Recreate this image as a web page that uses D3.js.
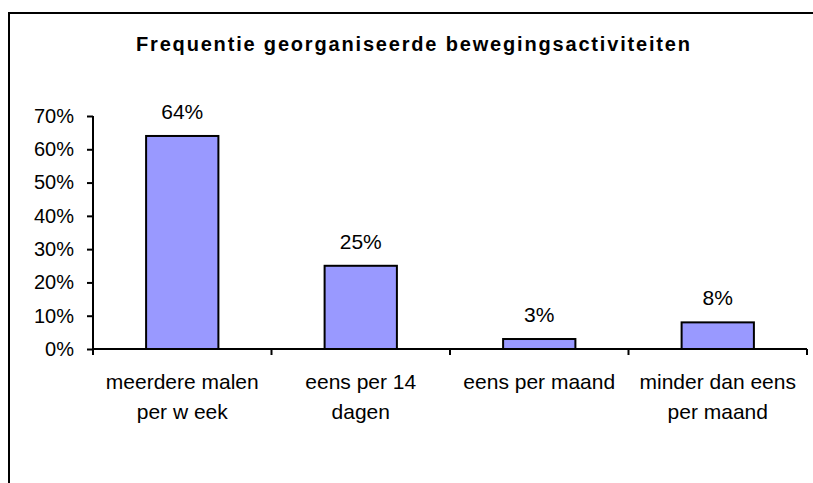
<!DOCTYPE html>
<html>
<head>
<meta charset="utf-8">
<script src="https://cdn.jsdelivr.net/npm/d3@7"></script>
<style>
  body { margin: 0; background: #fff; }
  text { font-family: "Liberation Sans", Arial, sans-serif; fill: #000; }
</style>
</head>
<body>
<div id="chart"></div>
<script>
// data
const categories = ["meerdere malen per week", "eens per 14 dagen", "eens per maand", "minder dan eens per maand"];
const labelLines = [["meerdere malen", "per w eek"], ["eens per 14", "dagen"], ["eens per maand"], ["minder dan eens", "per maand"]];
const values = [0.64, 0.25, 0.03, 0.08];
const yTicks = [0, 0.1, 0.2, 0.3, 0.4, 0.5, 0.6, 0.7];
const title = "Frequentie georganiseerde bewegingsactiviteiten";

const W = 813, H = 483;
const margin = { top: 116, bottom: 134, left: 93, right: 6 };

const svg = d3.select("#chart").append("svg")
    .attr("width", W)
    .attr("height", H);

// outer frame (right and bottom edges run off the picture)
svg.append("rect")
    .attr("x", 9).attr("y", 13)
    .attr("width", W + 20).attr("height", H + 20)
    .attr("fill", "none").attr("stroke", "#000").attr("stroke-width", 2);

svg.append("text")
    .attr("x", 413).attr("y", 51)
    .attr("text-anchor", "middle")
    .style("font-size", "20px").style("font-weight", "bold")
    .attr("textLength", 554).attr("lengthAdjust", "spacing")
    .text(title);

const xscale = d3.scaleBand().domain(categories).range([margin.left, W - margin.right]).padding(0);
const yscale = d3.scaleLinear().domain([0, 0.7]).range([H - margin.bottom, margin.top]);
const y0 = yscale(0);
const barW = xscale.bandwidth() * 0.405;

// y axis
const yaxis = d3.axisLeft(yscale).tickValues(yTicks).tickFormat(d3.format(".0%")).tickSize(6).tickPadding(13);
const g_yaxis = svg.append("g").attr("transform", `translate(${margin.left},0)`).call(yaxis);
g_yaxis.select(".domain").remove();
g_yaxis.append("line").attr("x1", 0).attr("x2", 0).attr("y1", yscale(0.7)).attr("y2", y0)
    .attr("stroke", "#000").attr("stroke-width", 2);
g_yaxis.selectAll(".tick line").attr("stroke", "#000").attr("stroke-width", 2);
g_yaxis.selectAll(".tick text")
    .style("font-size", "20px")
    .attr("font-family", null).attr("fill", "#000");

// bars
svg.selectAll("rect.bar")
    .data(values)
    .join("rect")
    .attr("class", "bar")
    .attr("x", (d, i) => xscale(categories[i]) + (xscale.bandwidth() - barW) / 2)
    .attr("y", (d) => yscale(d))
    .attr("width", barW)
    .attr("height", (d) => y0 - yscale(d))
    .attr("fill", "#9999ff")
    .attr("stroke", "#000")
    .attr("stroke-width", 2);

// value labels
svg.selectAll("text.val")
    .data(values)
    .join("text")
    .attr("class", "val")
    .attr("x", (d, i) => xscale(categories[i]) + xscale.bandwidth() / 2)
    .attr("y", (d) => yscale(d) - 17)
    .attr("text-anchor", "middle")
    .style("font-size", "21px")
    .text((d) => d3.format(".0%")(d));

// x axis line and category ticks
const xaxis = svg.append("g");
xaxis.append("line")
    .attr("x1", margin.left).attr("x2", W - margin.right)
    .attr("y1", y0).attr("y2", y0)
    .attr("stroke", "#000").attr("stroke-width", 2);
const bounds = categories.map((c) => xscale(c)).concat([W - margin.right]);
xaxis.selectAll("line.tick")
    .data(bounds)
    .join("line")
    .attr("class", "tick")
    .attr("x1", (d) => d).attr("x2", (d) => d)
    .attr("y1", y0).attr("y2", y0 + 6)
    .attr("stroke", "#000").attr("stroke-width", 2);

// category labels
const cat = svg.selectAll("text.cat")
    .data(labelLines)
    .join("text")
    .attr("class", "cat")
    .attr("text-anchor", "middle")
    .style("font-size", "21px");
cat.selectAll("tspan")
    .data((d, i) => d.map((line) => ({ line: line, i: i })))
    .join("tspan")
    .attr("x", (d) => xscale(categories[d.i]) + xscale.bandwidth() / 2)
    .attr("y", (d, j) => y0 + 40 + j * 30)
    .text((d) => d.line);
</script>
</body>
</html>
